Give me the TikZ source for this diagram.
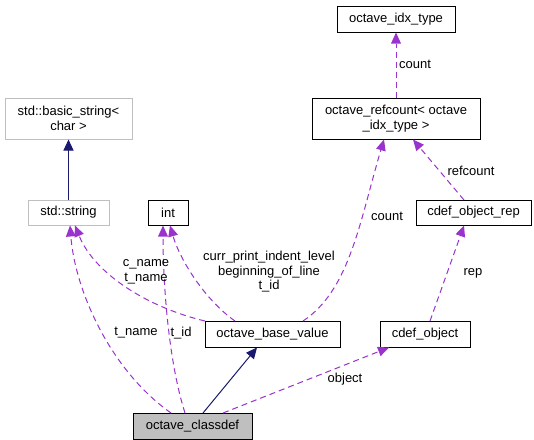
\documentclass[tikz,border=0pt]{standalone}
\usepackage{fontspec}
\setmainfont{Liberation Sans}
\usetikzlibrary{arrows.meta}
\definecolor{dpurple}{HTML}{9A32CD}
\definecolor{dnavy}{HTML}{191970}
\definecolor{dgrey}{HTML}{BFBFBF}
\begin{document}
\begin{tikzpicture}[x=1pt,y=-1pt,
  box/.style={draw=black,line width=1pt,fill=white,inner sep=0pt,align=center,font=\fontsize{13}{14.5}\selectfont},
  extbox/.style={box,draw=dgrey},
  usage/.style={draw=dpurple,line width=1pt,dashed,dash pattern=on 6pt off 4pt,-{Triangle[length=11pt,width=10pt,fill=dpurple,line width=0pt]}},
  inherit/.style={draw=dnavy,line width=1pt,-{Triangle[length=11pt,width=10pt,fill=dnavy]}},
  lbl/.style={font=\fontsize{13}{14.5}\selectfont,align=center,inner sep=0pt}]
\useasboundingbox (0,0) rectangle (534,439);
\node[box,minimum width=118pt,minimum height=26pt] (idx) at (396,19) {octave\_idx\_type};
\node[extbox,minimum width=127pt,minimum height=41pt] (bstr) at (68.5,118.5) {std::basic\_string<\\char >};
\node[box,minimum width=168pt,minimum height=41pt] (refc) at (396,118.5) {octave\_refcount< octave\\\_idx\_type >};
\node[extbox,minimum width=81pt,minimum height=25pt] (str) at (68.5,212.5) {std::string};
\node[box,minimum width=40pt,minimum height=25pt] (int) at (168,212.5) {int};
\node[box,minimum width=115pt,minimum height=25pt] (rep) at (473.5,212.5) {cdef\_object\_rep};
\node[box,minimum width=135pt,minimum height=26pt] (obv) at (272.5,334) {octave\_base\_value};
\node[box,minimum width=90pt,minimum height=26pt] (cobj) at (425,334) {cdef\_object};
\node[box,fill=dgrey,minimum width=119pt,minimum height=26pt] (cls) at (192.5,426) {octave\_classdef};

\coordinate (obvA) at (205,321);
\coordinate (obvB) at (235,321);
\coordinate (obvC) at (303,321);
\coordinate (clsA) at (171,413);
\coordinate (clsB) at (185,413);
\coordinate (clsC) at (203,413);
\coordinate (clsD) at (223,413);
\coordinate (repN) at (464,200);
\coordinate (cobN) at (430,321);

\draw[inherit] (str) -- (bstr);
\draw[usage] (refc) -- (idx);
\draw[usage] (repN) -- (413,139.5);
\draw[usage] (cobN) -- (464,225.5);
\draw[usage] (obvA) .. controls (150,308) and (95,275) .. (75,225.5);
\draw[usage] (obvB) .. controls (205,300) and (180,260) .. (170,225.5);
\draw[usage] (obvC) .. controls (350,290) and (360,220) .. (384,139.5);
\draw[usage] (clsA) .. controls (110,370) and (75,290) .. (70,225.5);
\draw[usage] (clsB) .. controls (168,360) and (163,280) .. (163,225.5);
\draw[usage] (clsD) -- (389,347.5);
\draw[inherit] (clsC) -- (257,347.5);

\node[lbl,anchor=west] at (399,64) {count};
\node[lbl] at (471,171) {refcount};
\node[lbl] at (387,216) {count};
\node[lbl] at (473,273) {rep};
\node[lbl] at (146,272) {c\_name\\t\_name};
\node[lbl] at (269,272) {curr\_print\_indent\_level\\beginning\_of\_line\\t\_id};
\node[lbl] at (136,333) {t\_name};
\node[lbl] at (181,333) {t\_id};
\node[lbl] at (345,379) {object};
\end{tikzpicture}
\end{document}
